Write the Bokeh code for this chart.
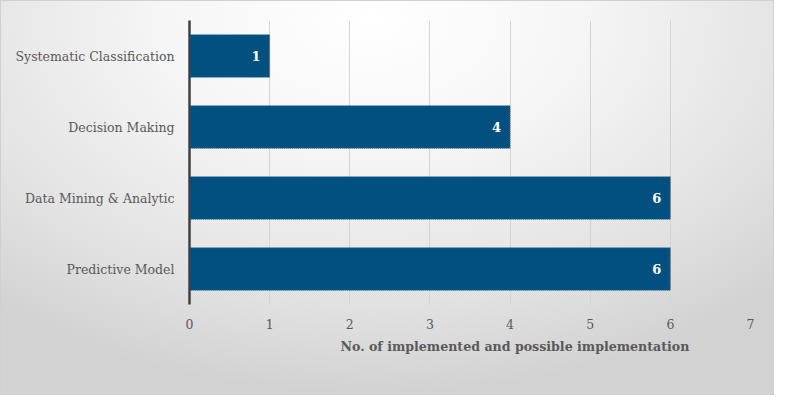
from bokeh.plotting import figure
from bokeh.models import FactorRange, Range1d, ColumnDataSource, Title
from bokeh.core.properties import value
from bokeh.embed import file_html
from bokeh.resources import INLINE

categories = ["Systematic Classification", "Decision Making", "Data Mining & Analytic", "Predictive Model"]
counts = [1, 4, 6, 6]
x_ticks = [0, 1, 2, 3, 4, 5, 6, 7]
x_title = "No. of  implemented and possible implementation"

FONT = "DejaVu Serif"

src = ColumnDataSource(dict(cat=categories, val=counts, lab=[str(v) for v in counts]))

p = figure(width=774, height=395, output_backend="svg", toolbar_location=None,
           y_range=FactorRange(*categories[::-1], range_padding=0),
           x_range=Range1d(0, 7),
           min_border_left=189, min_border_right=24, min_border_top=20, min_border_bottom=91)

p.background_fill_color = None
p.border_fill_color = None
p.outline_line_color = None
p.styles = {"background": "radial-gradient(ellipse 75% 95% at 48% 5%, #ffffff 0%, #f6f6f6 35%, #e2e2e2 75%, #d2d2d2 100%)",
            "box-shadow": "inset 0 0 0 1px #d0d0d0"}

p.hbar(y="cat", right="val", left=0, height=0.6, source=src,
       fill_color="#02507f", line_color="#3a78a3", line_dash="1 1", line_width=1)

p.text(x="val", y="cat", text="lab", source=src, x_offset=-9,
       text_align="right", text_baseline="middle", text_color="white",
       text_font=value(FONT), text_font_style="bold", text_font_size="13px")

p.xgrid.grid_line_color = "#d4d4d4"
p.xgrid.ticker = x_ticks
p.ygrid.grid_line_color = None

p.xaxis.ticker = x_ticks
p.xaxis.axis_line_color = None
p.xaxis.major_tick_line_color = None
p.xaxis.minor_tick_line_color = None
p.xaxis.major_label_text_font = FONT
p.xaxis.major_label_text_font_size = "12.5px"
p.xaxis.major_label_text_color = "#595959"
p.xaxis.major_label_standoff = 8

p.yaxis.axis_line_color = "#404040"
p.yaxis.axis_line_width = 2.5
p.yaxis.major_tick_line_color = None
p.yaxis.minor_tick_line_color = None
p.yaxis.major_label_text_font = FONT
p.yaxis.major_label_text_font_size = "12.5px"
p.yaxis.major_label_text_color = "#595959"
p.yaxis.major_label_standoff = 9

t = Title(text=x_title, align="left", offset=151, text_font=FONT, text_font_size="12.6px",
          text_font_style="bold", text_color="#595959", standoff=11)
p.add_layout(t, "below")

open("out.html", "w").write(file_html(p, INLINE))
